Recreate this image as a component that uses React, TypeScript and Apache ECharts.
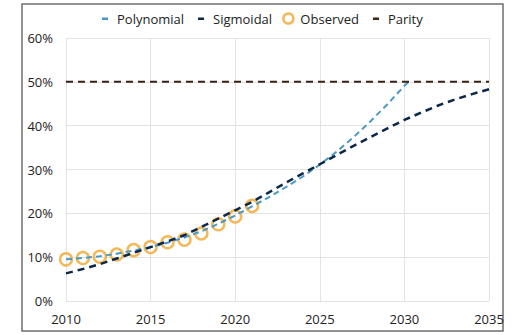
import React, { useEffect, useRef } from "react";
import * as echarts from "echarts";

const obsYears = [2010, 2011, 2012, 2013, 2014, 2015, 2016, 2017, 2018, 2019, 2020, 2021];
const obsValues = [9.5, 9.8, 10.1, 10.6, 11.6, 12.3, 13.4, 14.0, 15.4, 17.5, 19.3, 21.7];

const polyYears = [2010, 2011, 2012, 2013, 2014, 2015, 2016, 2017, 2018, 2019, 2020, 2021, 2022, 2023, 2024, 2025, 2026, 2027, 2028, 2029, 2030, 2030.25];
const polyValues = [9.5, 9.8, 10.2, 10.8, 11.5, 12.3, 13.3, 14.5, 15.9, 17.6, 19.5, 21.6, 23.7, 26.0, 28.4, 31.1, 34.1, 37.4, 41.0, 44.9, 49.1, 50.0];

const sigYears = [2010, 2011, 2012, 2013, 2014, 2015, 2016, 2017, 2018, 2019, 2020, 2021, 2022, 2023, 2024, 2025, 2026, 2027, 2028, 2029, 2030, 2031, 2032, 2033, 2034, 2035];
const sigValues = [6.3, 7.3, 8.4, 9.7, 11.0, 12.3, 13.6, 15.0, 16.9, 18.8, 20.7, 22.6, 24.8, 27.0, 29.1, 31.2, 33.3, 35.4, 37.4, 39.4, 41.3, 43.0, 44.6, 46.0, 47.2, 48.3];

const parityYears = [2010, 2035];
const parityValues = [50, 50];

const zip = (xs: number[], ys: number[]) => xs.map((x, i) => [x, ys[i]]);

const FONT = "'Open Sans', sans-serif";
const LINE_ICON = "path://M0,0 M14,10 M4,4 H10 V6.5 H4 Z";

export default function App() {
  const ref = useRef<HTMLDivElement>(null);
  useEffect(() => {
    if (!ref.current) return;
    const chart = echarts.init(ref.current, undefined, { renderer: "svg" });
    chart.setOption({
      animation: false,
      backgroundColor: "#ffffff",
      textStyle: { fontFamily: FONT, color: "#222" },
      graphic: [
        {
          type: "rect",
          shape: { x: 22, y: 4, width: 481, height: 327 },
          style: { fill: "none", stroke: "#6e6e6e", lineWidth: 1.5 },
          silent: true,
          z: -1,
        },
      ],
      legend: {
        left: 93,
        top: 7,
        itemWidth: 14,
        itemHeight: 10,
        itemGap: 10,
        textStyle: { fontFamily: FONT, fontSize: 13, color: "#222" },
        data: [
          { name: "Polynomial", icon: LINE_ICON },
          { name: "Sigmoidal", icon: LINE_ICON },
          {
            name: "Observed",
            icon: "circle",
            itemStyle: { color: "transparent", borderColor: "#F0A830", borderWidth: 2.5 },
          },
          { name: "Parity", icon: LINE_ICON },
        ],
      },
      grid: { left: 66, right: 43, top: 38, bottom: 34 },
      xAxis: {
        type: "value",
        min: 2010,
        max: 2035,
        interval: 5,
        axisLine: { show: false },
        axisTick: { show: false },
        splitLine: { show: true, lineStyle: { color: "#e3e3e3", width: 1 } },
        axisLabel: {
          fontFamily: FONT,
          fontSize: 13,
          color: "#222",
          margin: 11,
          formatter: (v: number) => String(v),
        },
      },
      yAxis: {
        type: "value",
        min: 0,
        max: 60,
        interval: 10,
        axisLine: { show: false },
        axisTick: { show: false },
        splitLine: { show: true, lineStyle: { color: "#e3e3e3", width: 1 } },
        axisLabel: { fontFamily: FONT, fontSize: 13, color: "#222", margin: 13, formatter: "{value}%" },
      },
      series: [
        {
          name: "Observed",
          type: "scatter",
          data: zip(obsYears, obsValues),
          symbol: "circle",
          symbolSize: 12,
          itemStyle: { color: "transparent", borderColor: "#F0A830", borderWidth: 2.5 },
          z: 2,
        },
        {
          name: "Polynomial",
          type: "line",
          data: zip(polyYears, polyValues),
          symbol: "none",
          color: "#4A98C4",
          lineStyle: { color: "#4A98C4", width: 2, type: [6, 4] },
          z: 3,
        },
        {
          name: "Sigmoidal",
          type: "line",
          data: zip(sigYears, sigValues),
          symbol: "none",
          color: "#0C2848",
          lineStyle: { color: "#0C2848", width: 2.5, type: [7, 5] },
          z: 4,
        },
        {
          name: "Parity",
          type: "line",
          data: zip(parityYears, parityValues),
          symbol: "none",
          color: "#3A2214",
          lineStyle: { color: "#3A2214", width: 2, type: [7, 5] },
          z: 3,
        },
      ],
    });
    return () => chart.dispose();
  }, []);
  return (
    <div style={{ position: "fixed", left: 0, top: 0, width: 532, height: 335, background: "#fff" }}>
      <div ref={ref} style={{ width: 532, height: 335 }} />
    </div>
  );
}
